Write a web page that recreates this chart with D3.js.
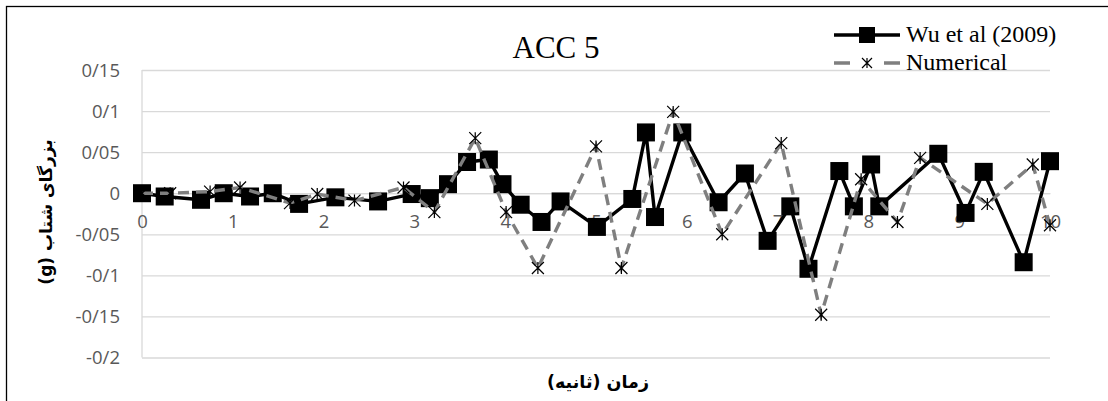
<!DOCTYPE html>
<html>
<head>
<meta charset="utf-8">
<script src="https://cdn.jsdelivr.net/npm/d3@7"></script>
<style>
  body { margin: 0; background: #fff; }
  .tick text { font-family: "Open Sans", sans-serif; fill: #595959; }
</style>
</head>
<body>
<div id="chart"></div>
<script>
// Wu et al (2009) – time (s) and acceleration (g)
var wuTime = [0, 0.25, 0.65, 0.9, 1.19, 1.44, 1.73, 2.13, 2.6, 2.97, 3.17, 3.37, 3.58, 3.82, 3.97, 4.17, 4.4, 4.61, 5.01,
              5.4, 5.55, 5.65, 5.95, 6.35, 6.64, 6.89, 7.14, 7.34, 7.68, 7.84, 8.03, 8.12, 8.77, 9.07, 9.27, 9.71, 10.0];
var wuAcc  = [0, -0.004, -0.008, 0, -0.004, 0, -0.013, -0.005, -0.01, -0.001, -0.006, 0.011, 0.038, 0.041, 0.011, -0.014, -0.035, -0.01, -0.041,
              -0.007, 0.074, -0.029, 0.074, -0.011, 0.024, -0.058, -0.016, -0.092, 0.027, -0.016, 0.035, -0.016, 0.048, -0.024, 0.026, -0.084, 0.039];

// Numerical
var numTime = [0, 0.31, 0.75, 1.08, 1.63, 1.93, 2.34, 2.88, 3.22, 3.67, 4.01, 4.36, 5.0, 5.28, 5.85, 6.39, 7.04, 7.48, 7.92, 8.32, 8.57, 9.31, 9.81, 10.0];
var numAcc  = [0, 0, 0.002, 0.007, -0.012, -0.001, -0.009, 0.007, -0.023, 0.067, -0.023, -0.091, 0.057, -0.091, 0.099, -0.05, 0.061, -0.148, 0.017, -0.035, 0.043, -0.013, 0.035, -0.039];

var yTicks = [0.15, 0.1, 0.05, 0, -0.05, -0.1, -0.15, -0.2];
var xTicks = [0, 1, 2, 3, 4, 5, 6, 7, 8, 9, 10];

var chartTitle = "ACC 5";
var seriesNames = ["Wu et al (2009)", "Numerical"];
var xTitle = "زمان (ثانیه)";
var yTitle = "بزرگای شتاب (g)";

var width = 1108, height = 401;
var plot = {left: 142, right: 1050, top: 70, bottom: 357.5};

var svg = d3.select("#chart").append("svg")
    .attr("width", width)
    .attr("height", height);

// outer chart border (runs off the right/bottom of the picture)
svg.append("rect")
    .attr("x", 6.5).attr("y", 6.5)
    .attr("width", width).attr("height", height)
    .attr("fill", "none")
    .attr("stroke", "#000")
    .attr("stroke-width", 1.3);

var x = d3.scaleLinear().domain([0, 10]).range([plot.left, plot.right]);
var y = d3.scaleLinear().domain([-0.2, 0.15]).range([plot.bottom, plot.top]);

function fmt(d) {
  return String(+d.toFixed(2)).replace(".", "/");
}

// gridlines + y labels
var yAxis = svg.append("g")
    .attr("transform", "translate(" + plot.left + ",0)")
    .call(d3.axisLeft(y).tickValues(yTicks).tickFormat(fmt)
          .tickSize(-(plot.right - plot.left)).tickPadding(22));
yAxis.select(".domain").remove();
yAxis.selectAll(".tick line").attr("stroke", "#d9d9d9").attr("stroke-width", 1.3);
yAxis.selectAll(".tick text").style("font-size", "18.5px").attr("dy", "0.35em");

// vertical axis line
svg.append("line")
    .attr("x1", x(0)).attr("x2", x(0))
    .attr("y1", plot.top).attr("y2", plot.bottom)
    .attr("stroke", "#d9d9d9").attr("stroke-width", 1.3);

// x labels, crossing at y = 0
var xAxis = svg.append("g")
    .attr("transform", "translate(0," + y(0) + ")")
    .call(d3.axisBottom(x).tickValues(xTicks).tickFormat(d3.format("d")).tickSize(0));
xAxis.select(".domain").attr("stroke", "#d9d9d9").attr("stroke-width", 1.3);
xAxis.selectAll(".tick text").style("font-size", "18.5px").attr("y", 28).attr("dy", "0.35em");

// Wu series
var wuData = wuTime.map(function(t, i) { return [t, wuAcc[i]]; });
var numData = numTime.map(function(t, i) { return [t, numAcc[i]]; });

var line = d3.line().x(function(d) { return x(d[0]); }).y(function(d) { return y(d[1]); });

svg.append("path")
    .datum(wuData)
    .attr("d", line)
    .attr("fill", "none")
    .attr("stroke", "#000")
    .attr("stroke-width", 3.4)
    .attr("stroke-linejoin", "round");

svg.append("g").selectAll("rect")
    .data(wuData)
    .enter().append("rect")
    .attr("x", function(d) { return x(d[0]) - 9; })
    .attr("y", function(d) { return y(d[1]) - 9; })
    .attr("width", 18).attr("height", 18)
    .attr("fill", "#000");

// Numerical series
svg.append("path")
    .datum(numData)
    .attr("d", line)
    .attr("fill", "none")
    .attr("stroke", "#7f7f7f")
    .attr("stroke-width", 3.4)
    .attr("stroke-dasharray", "11,7");

function star(g, cx, cy, r) {
  var p = "M" + (cx - r) + "," + (cy - r) + "L" + (cx + r) + "," + (cy + r) +
          "M" + (cx - r) + "," + (cy + r) + "L" + (cx + r) + "," + (cy - r) +
          "M" + cx + "," + (cy - r) + "L" + cx + "," + (cy + r);
  g.append("path").attr("d", p).attr("stroke", "#000").attr("stroke-width", 1.2).attr("fill", "none");
}

var stars = svg.append("g");
numData.forEach(function(d) { star(stars, x(d[0]), y(d[1]), 6); });

// title
svg.append("text")
    .attr("x", 556).attr("y", 58)
    .attr("text-anchor", "middle")
    .style("font-family", "'Liberation Serif', serif")
    .style("font-size", "31px")
    .text(chartTitle);

// legend
var lg = svg.append("g");
lg.append("line").attr("x1", 834).attr("x2", 900).attr("y1", 35).attr("y2", 35)
  .attr("stroke", "#000").attr("stroke-width", 3.4);
lg.append("rect").attr("x", 859).attr("y", 27).attr("width", 16).attr("height", 16).attr("fill", "#000");
lg.append("path").attr("d", "M834,63H850M884,63H900")
  .attr("stroke", "#7f7f7f").attr("stroke-width", 3.4);
star(lg, 867, 63, 5);
lg.selectAll("text")
  .data(seriesNames)
  .enter().append("text")
  .attr("x", 906)
  .attr("y", function(d, i) { return 42 + i * 28; })
  .style("font-family", "'Liberation Serif', serif")
  .style("font-size", "24px")
  .text(function(d) { return d; });

// axis titles
svg.append("text")
    .attr("x", 598).attr("y", 388)
    .attr("text-anchor", "middle")
    .attr("direction", "rtl")
    .style("font-family", "'DejaVu Sans', sans-serif")
    .style("font-weight", "bold")
    .style("font-size", "17.5px")
    .text(xTitle);

svg.append("text")
    .attr("transform", "translate(52,212) rotate(-90)")
    .attr("text-anchor", "middle")
    .attr("direction", "rtl")
    .style("font-family", "'DejaVu Sans', sans-serif")
    .style("font-weight", "bold")
    .style("font-size", "17px")
    .text(yTitle);
</script>
</body>
</html>
